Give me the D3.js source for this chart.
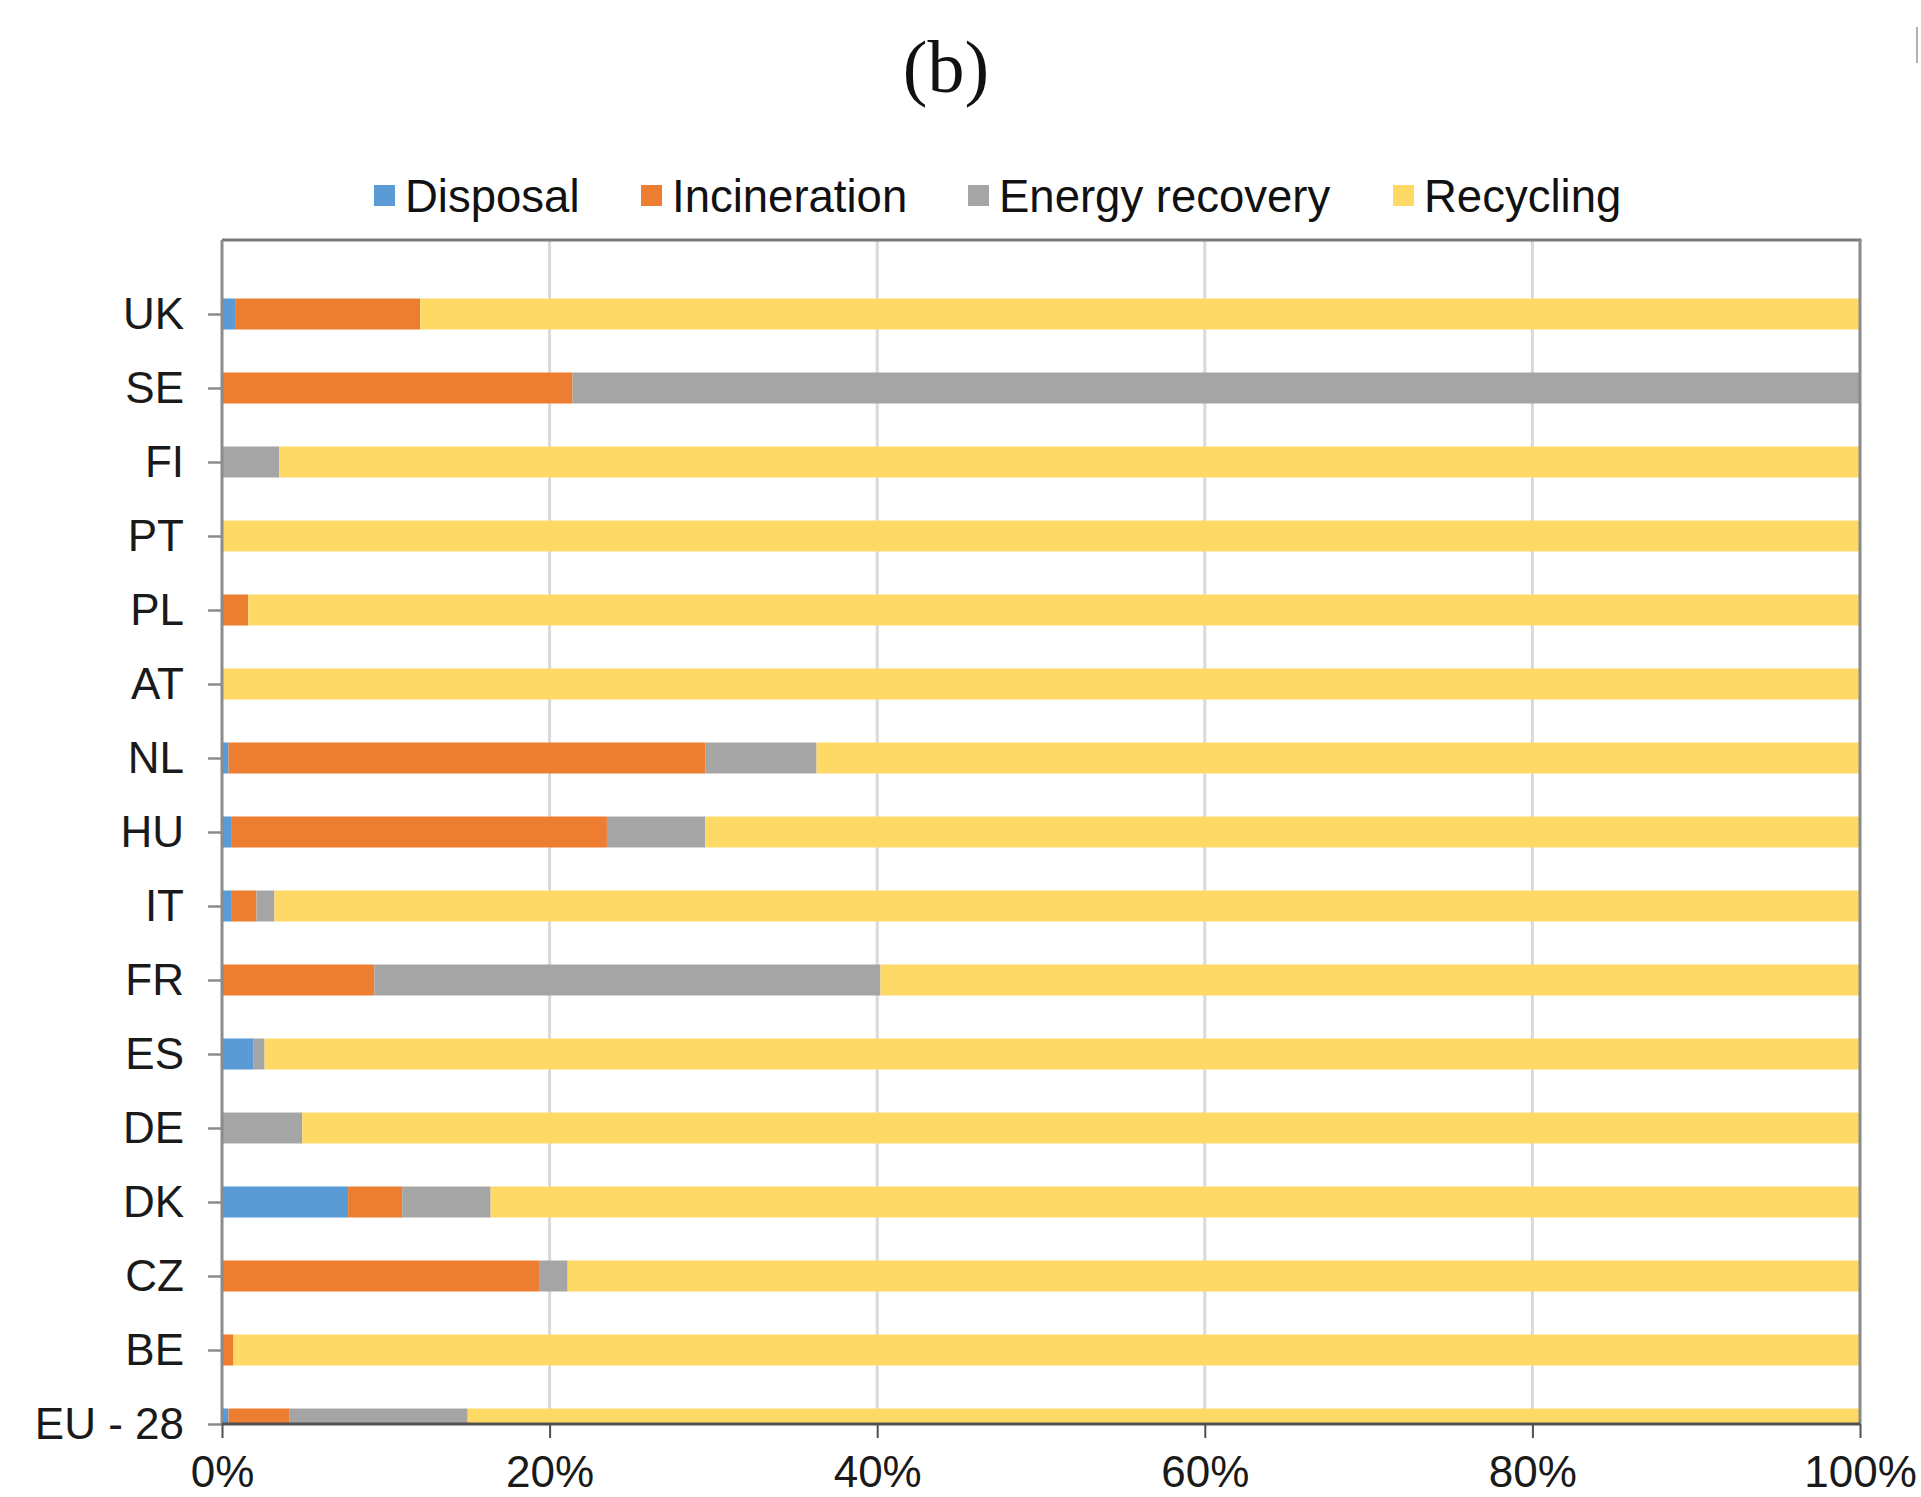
<!DOCTYPE html>
<html>
<head>
<meta charset="utf-8">
<script src="https://cdn.jsdelivr.net/npm/d3@7"></script>
<style>
  html, body { margin: 0; padding: 0; background: #ffffff; }
  svg { display: block; }
  text { font-family: "Liberation Sans", Arial, sans-serif; }
</style>
</head>
<body>
<svg id="chart" width="1921" height="1497"></svg>
<script>
// Treatment shares (%) of each country's stream, top row first
const categories = ["UK", "SE", "FI", "PT", "PL", "AT", "NL", "HU", "IT", "FR", "ES", "DE", "DK", "CZ", "BE", "EU - 28"];
const disposal     = [0.8, 0,    0,    0,   0,    0,   0.4,  0.6,  0.6,  0,    1.9,  0,    7.7,  0,    0,    0.4];
const incineration = [11.3, 21.4, 0,   0,   1.6,  0,   29.1, 22.9, 1.5,  9.3,  0,    0,    3.3,  19.4, 0.7,  3.7];
const energyRecovery = [0, 78.6, 3.5,  0,   0,    0,   6.8,  6.0,  1.1,  30.9, 0.7,  4.9,  5.4,  1.7,  0,    10.9];
const recycling    = [87.9, 0,    96.5, 100, 98.4, 100, 63.7, 70.5, 96.8, 59.8, 97.4, 95.1, 83.6, 78.9, 99.3, 85.0];

const seriesNames = ["Disposal", "Incineration", "Energy recovery", "Recycling"];
const seriesColors = ["#5B9BD5", "#ED7D31", "#A5A5A5", "#FFD966"];
const xTicks = [0, 20, 40, 60, 80, 100];
const title = "(b)";

const rows = categories.map((c, i) => ({
  country: c,
  "Disposal": disposal[i],
  "Incineration": incineration[i],
  "Energy recovery": energyRecovery[i],
  "Recycling": recycling[i]
}));

const svg = d3.select("#chart");
const plot = { left: 222, right: 1860, top: 240, bottom: 1424 };
const step = (plot.bottom - plot.top) / categories.length;
const barH = 31;

const x = d3.scaleLinear().domain([0, 100]).range([plot.left, plot.right]);
const y = d3.scalePoint().domain(categories).range([plot.top + step, plot.bottom]);
const color = d3.scaleOrdinal().domain(seriesNames).range(seriesColors);

// Title
svg.append("text")
  .attr("x", 946).attr("y", 92)
  .attr("text-anchor", "middle")
  .style("font-family", "'Liberation Serif', 'Times New Roman', serif")
  .style("font-size", "74px")
  .attr("fill", "#111")
  .text(title);

// Legend: one swatch + label per series, laid out along a row
const legendX = [374, 641, 968, 1393];
const legend = svg.append("g").attr("class", "legend");
seriesNames.forEach((name, i) => {
  const g = legend.append("g").attr("transform", `translate(${legendX[i]},0)`);
  g.append("rect").attr("x", 0).attr("y", 185).attr("width", 21).attr("height", 21)
    .attr("fill", color(name));
  g.append("text").attr("x", 31).attr("y", 212)
    .style("font-size", "45.5px").attr("fill", "#111").text(name);
});

// Vertical gridlines
svg.append("g").attr("class", "grid")
  .selectAll("line").data(xTicks.filter(d => d > 0 && d < 100)).join("line")
  .attr("x1", d => x(d)).attr("x2", d => x(d))
  .attr("y1", plot.top).attr("y2", plot.bottom)
  .attr("stroke", "#d9d9d9").attr("stroke-width", 3);

// Stacked bars, clipped to the plot frame
svg.append("clipPath").attr("id", "plot-clip")
  .append("rect").attr("x", plot.left).attr("y", plot.top)
  .attr("width", plot.right - plot.left).attr("height", plot.bottom - plot.top);

const stacked = d3.stack().keys(seriesNames)(rows);
svg.append("g").attr("clip-path", "url(#plot-clip)")
  .selectAll("g").data(stacked).join("g")
  .attr("fill", d => color(d.key))
  .selectAll("rect").data(d => d).join("rect")
  .attr("x", d => x(d[0]))
  .attr("width", d => Math.max(0, x(d[1]) - x(d[0])))
  .attr("y", d => y(d.data.country) - barH / 2)
  .attr("height", barH);

// Plot frame: top and right borders
svg.append("line").attr("x1", plot.left).attr("x2", plot.right + 1.5)
  .attr("y1", plot.top).attr("y2", plot.top)
  .attr("stroke", "#7a7a7a").attr("stroke-width", 3);
svg.append("line").attr("x1", plot.right).attr("x2", plot.right)
  .attr("y1", plot.top).attr("y2", plot.bottom)
  .attr("stroke", "#8a8a8a").attr("stroke-width", 3);

// Y axis
const yAxis = svg.append("g")
  .attr("transform", `translate(${plot.left},0)`)
  .call(d3.axisLeft(y).tickSize(14).tickPadding(24));
yAxis.select(".domain").attr("d", `M0,${plot.top}V${plot.bottom}`)
  .attr("stroke", "#8c8c8c").attr("stroke-width", 3);
yAxis.selectAll(".tick line").attr("stroke", "#8c8c8c").attr("stroke-width", 2.5);
yAxis.selectAll(".tick text")
  .style("font-size", "44px").attr("fill", "#1a1a1a")
  .attr("font-family", null);

// X axis
const xAxis = svg.append("g")
  .attr("transform", `translate(0,${plot.bottom})`)
  .call(d3.axisBottom(x).tickValues(xTicks).tickFormat(d => d + "%").tickSize(14).tickPadding(18));
xAxis.select(".domain").attr("d", `M${plot.left},0H${plot.right}`)
  .attr("stroke", "#505050").attr("stroke-width", 3);
xAxis.selectAll(".tick line").attr("stroke", "#505050").attr("stroke-width", 2);
xAxis.selectAll(".tick text")
  .style("font-size", "44px").attr("fill", "#1a1a1a")
  .attr("font-family", null);

// Edge of the neighbouring panel at the top right
svg.append("line").attr("x1", 1917).attr("x2", 1917).attr("y1", 27).attr("y2", 63)
  .attr("stroke", "#b0b0b0").attr("stroke-width", 2);
</script>
</body>
</html>
